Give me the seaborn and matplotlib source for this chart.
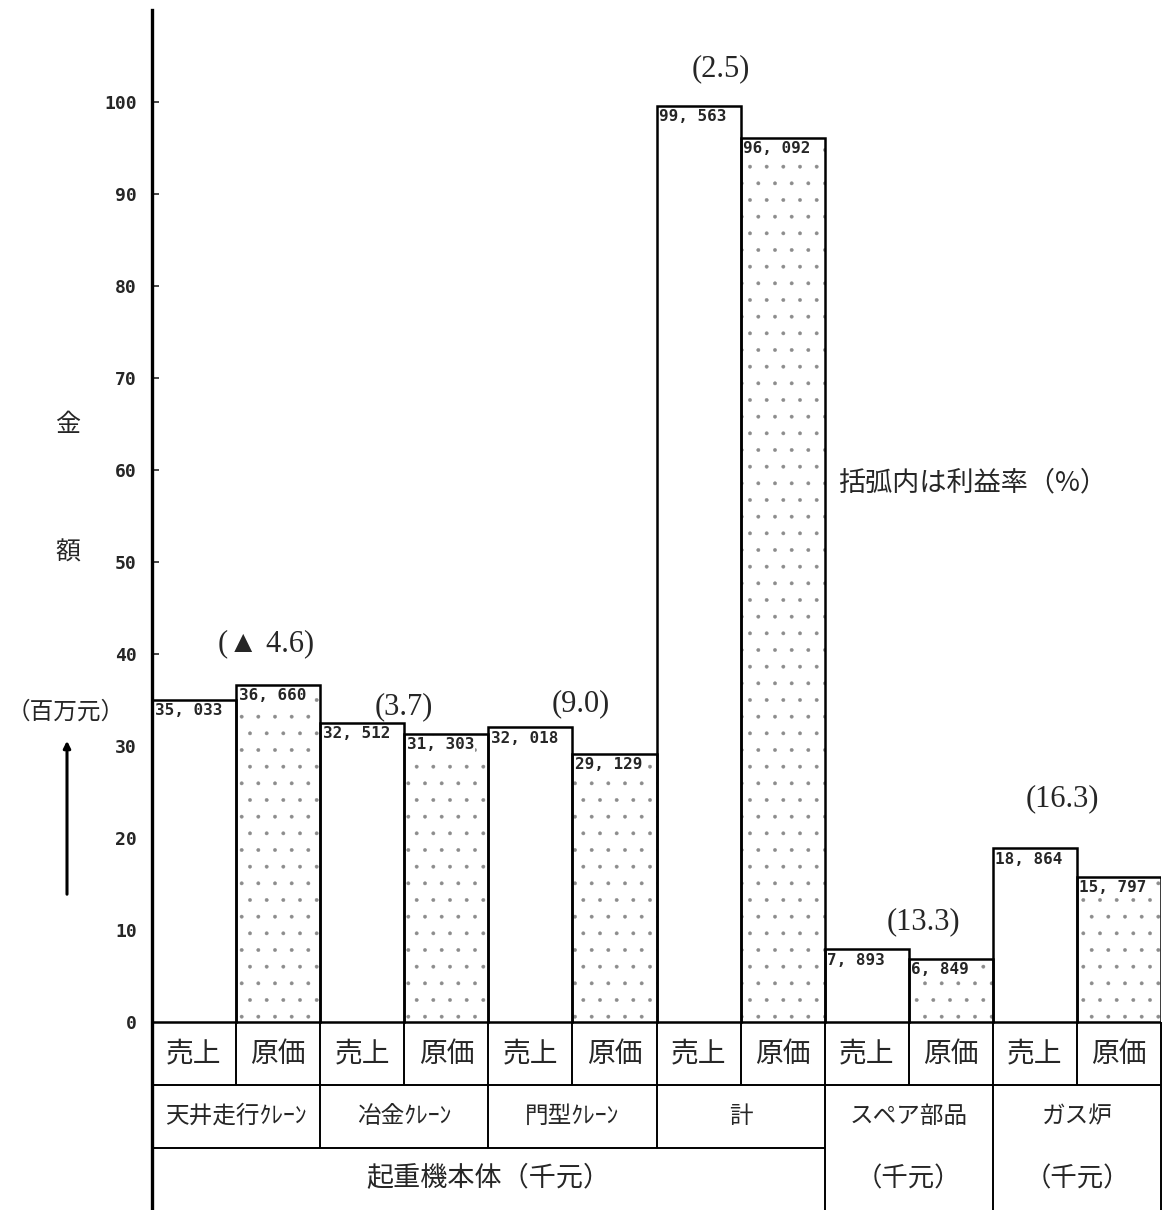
import numpy as np
import pandas as pd
import matplotlib
matplotlib.use("Agg")
import matplotlib.pyplot as plt
import seaborn as sns

# ---------------- data ----------------
groups = ["天井走行ｸﾚｰﾝ", "冶金ｸﾚｰﾝ", "門型ｸﾚｰﾝ", "計", "スペア部品", "ガス炉"]
kinds = ["売上", "原価"]
sales = [35033, 32512, 32018, 99563, 7893, 18864]      # 千元
costs = [36660, 31303, 29129, 96092, 6849, 15797]      # 千元
profit_rates = [-4.6, 3.7, 9.0, 2.5, 13.3, 16.3]       # %
ytick_values = [0, 10, 20, 30, 40, 50, 60, 70, 80, 90, 100]
note_text = "括弧内は利益率（%）"
ylabel_chars = ["金", "額"]
unit_text = "（百万元）"
main_group_text = "起重機本体（千元）"
sub_unit_text = "（千元）"

# ---------------- style ----------------
sns.set_style("white")
plt.rcParams["font.family"] = ["Noto Sans CJK JP", "DejaVu Sans"]
plt.rcParams["hatch.linewidth"] = 0.3

W, H = 1162, 1210
fig = plt.figure(figsize=(W / 100, H / 100), dpi=100)
ax_left, ax_right = 152, 1161
ax_top, ax_bottom = 10, 1210
ax = fig.add_axes([ax_left / W, 1 - ax_bottom / H, (ax_right - ax_left) / W, (ax_bottom - ax_top) / H])

px_per_unit = 9.2
zero_px = 1022
y_lo = -(ax_bottom - zero_px) / px_per_unit
y_hi = (zero_px - ax_top) / px_per_unit

rows = []
for i, g in enumerate(groups):
    for k, vals in zip(kinds, [sales, costs]):
        rows.append({"slot": f"{g}-{k}", "kind": k, "value": vals[i] / 1000.0, "raw": vals[i]})
df = pd.DataFrame(rows)
slots = list(df["slot"])

# layer 1: fills with stipple on cost bars
sns.barplot(data=df, x="slot", y="value", hue="kind", order=slots, hue_order=kinds,
            palette={"売上": "white", "原価": "white"}, dodge=False, width=1.0,
            edgecolor="white", linewidth=0, legend=False, ax=ax, zorder=2)
for p in list(ax.patches):
    idx = int(round(p.get_x() + p.get_width() / 2))
    if idx % 2 == 1:
        p.set_edgecolor("#8c8c8c")
        p.set_linewidth(0)
        p.set_hatch(".")

# layer 2: black outlines
sns.barplot(data=df, x="slot", y="value", hue="kind", order=slots, hue_order=kinds,
            palette={"売上": "black", "原価": "black"}, dodge=False, width=1.0,
            fill=False, linewidth=1.8, legend=False, ax=ax, zorder=3)

ax.set_xlim(-0.5, len(slots) - 0.5)
ax.set_ylim(y_lo, y_hi)

# value labels inside bars
for idx, raw in enumerate(df["raw"]):
    txt = f"{raw:,}".replace(",", ", ")
    ax.text(idx - 0.47, raw / 1000.0 - 0.35, txt, ha="left", va="top",
            family="DejaVu Sans Mono", fontweight="bold", fontsize=11.5, zorder=5,
            bbox=dict(facecolor="white", edgecolor="none", pad=0.3))

# profit-rate labels
rate_dx = [0.36, 0.0, 0.1, -0.23, 0.18, -0.17]
rate_dy = [4.5, 1.8, 2.6, 4.1, 3.0, 5.4]
for i, r in enumerate(profit_rates):
    top = max(sales[i], costs[i]) / 1000.0
    lab = f"(▲ {abs(r):.1f})" if r < 0 else f"({r:.1f})"
    ax.text(2 * i + 0.5 + rate_dx[i], top + rate_dy[i], lab, ha="center", va="center",
            family=["Liberation Serif", "DejaVu Serif"], fontsize=22, zorder=5)

# note
ax.text(7.66, 58.6, note_text, ha="left", va="center", fontsize=19.5)

# ---------------- table below ----------------
y_r1 = -(1085 - zero_px) / px_per_unit
y_r2 = -(1148 - zero_px) / px_per_unit
lw = 1.4
ax.hlines(y_r1, -0.5, 11.5, color="black", lw=lw, clip_on=False)
ax.hlines(y_r2, -0.5, 7.5, color="black", lw=lw, clip_on=False)
ax.vlines([k + 0.5 for k in range(12)], y_r1, 0, color="black", lw=lw, clip_on=False)
ax.vlines([1.5, 3.5, 5.5, 7.5, 9.5, 11.5], y_r2, y_r1, color="black", lw=lw, clip_on=False)
ax.vlines([7.5, 9.5, 11.5], y_lo, y_r2, color="black", lw=lw, clip_on=False)

for idx in range(len(slots)):
    ax.text(idx, y_r1 / 2, kinds[idx % 2], ha="center", va="center", fontsize=20)
for i, g in enumerate(groups):
    ax.text(2 * i + 0.5, (y_r1 + y_r2) / 2, g, ha="center", va="center", fontsize=17)
ax.text(3.5, (y_r2 + y_lo) / 2, main_group_text, ha="center", va="center", fontsize=19.5)
for c in [8.5, 10.5]:
    ax.text(c, (y_r2 + y_lo) / 2, sub_unit_text, ha="center", va="center", fontsize=19)

# ---------------- axes styling ----------------
for s in ["top", "right", "bottom"]:
    ax.spines[s].set_visible(False)
ax.spines["left"].set_linewidth(2.4)
ax.spines["left"].set_color("black")
ax.spines["left"].set_zorder(6)
ax.set_xticks([])
ax.set_xlabel("")
ax.set_ylabel("")
ax.set_yticks(ytick_values)
ax.set_yticklabels([str(v) for v in ytick_values], family="DejaVu Sans Mono",
                   fontweight="bold", fontsize=13)
ax.tick_params(axis="y", direction="in", length=5, width=1.2, pad=11, left=True)

# y-axis title
fig.text(68 / W, 1 - 425 / H, ylabel_chars[0], ha="center", va="center", fontsize=18)
fig.text(68 / W, 1 - 553 / H, ylabel_chars[1], ha="center", va="center", fontsize=18)
fig.text(66 / W, 1 - 712 / H, unit_text, ha="center", va="center", fontsize=17)
fig.add_artist(matplotlib.patches.FancyArrowPatch(
    (67 / W, 1 - 897 / H), (67 / W, 1 - 738 / H), transform=fig.transFigure,
    arrowstyle="-|>,head_length=4,head_width=2", mutation_scale=1, lw=2.2, color="black"))

fig.savefig("out.png", dpi=100, facecolor="white")
